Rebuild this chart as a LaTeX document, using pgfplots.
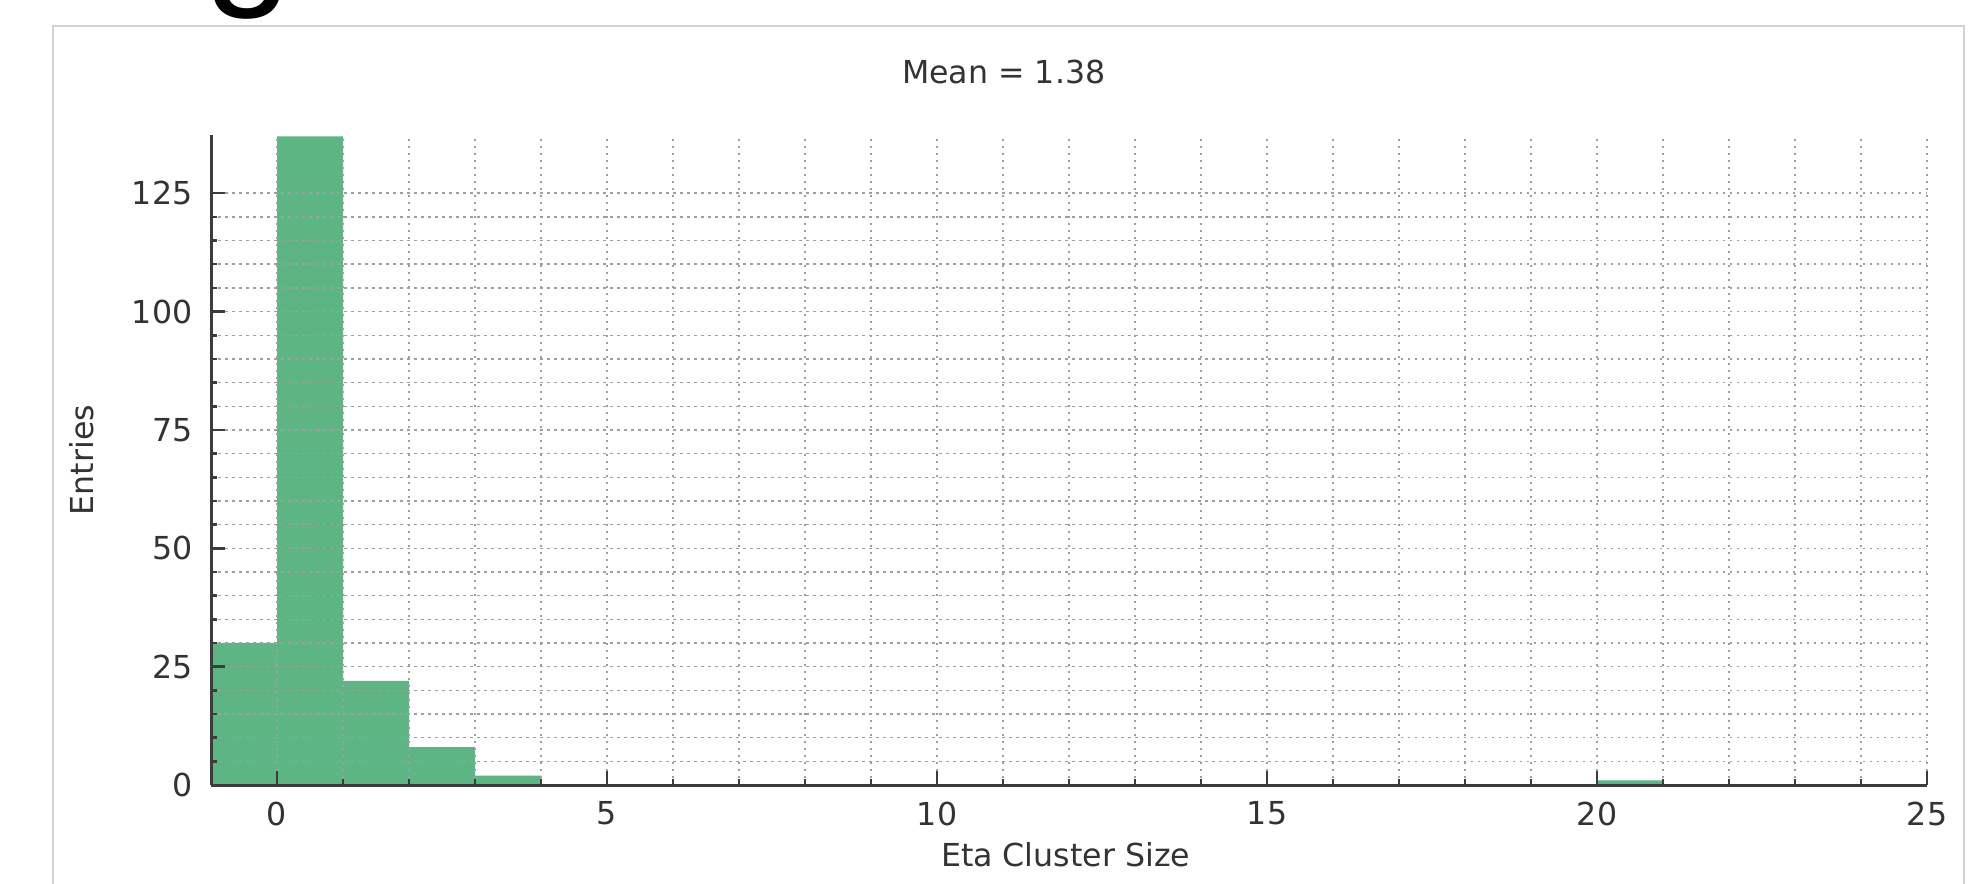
\documentclass[border=0pt]{standalone}
\usepackage{fontspec}
\setmainfont{DejaVu Sans}
\newfontfamily\headfont{Liberation Sans}
\usepackage{pgfplots}
\pgfplotsset{compat=1.18}
\definecolor{barfill}{HTML}{5DB583}
\definecolor{axisgray}{HTML}{3C3C3C}
\definecolor{txtgray}{HTML}{333333}

\begin{document}
\begin{tikzpicture}
\useasboundingbox (0,0) rectangle (197.8mm,88.3mm);
\fill[white] (0,0) rectangle (197.8mm,88.3mm);
% outer panel frame
\draw[gray!35, line width=0.25mm] (5.3mm,-2mm) -- (5.3mm,85.7mm) -- (196.4mm,85.7mm) -- (196.4mm,-2mm);
% cut-off heading letter at the top edge
\node[anchor=base, font=\headfont\fontsize{45}{45}\selectfont, inner sep=0pt] at (24.8mm,89.6mm) {g};
\begin{axis}[
    at={(21.1mm,9.8mm)}, anchor=south west,
    scale only axis,
    width=171.6mm, height=65mm,
    xmin=-1, xmax=25, ymin=0, ymax=137.3,
    axis x line*=bottom, axis y line*=left,
    xtick={0,5,...,25}, ytick={0,25,...,125},
    minor x tick num=4, minor y tick num=4,
    tick align=inside,
    major tick length=1.4mm, minor tick length=0.6mm,
    grid=both,
    major grid style={gray!75, line width=0.15mm, dash pattern=on 0.25mm off 0.45mm},
    minor grid style={gray!75, line width=0.15mm, dash pattern=on 0.25mm off 0.45mm},
    axis line style={axisgray, line width=0.3mm},
    every tick/.style={axisgray, line width=0.25mm},
    tick label style={font=\fontsize{9}{10}\selectfont, text=txtgray},
    /pgf/number format/assume math mode=true,
    yticklabel style={inner sep=0pt, xshift=-1.8mm},
    xticklabel style={inner sep=0pt, yshift=-1.6mm},
    label style={font=\fontsize{9}{10}\selectfont, text=txtgray},
    every axis title shift=0pt,
    title style={font=\fontsize{9}{10}\selectfont, text=txtgray, at={(axis description cs:0.462,1.097)}, anchor=center},
    xlabel style={at={(axis description cs:0.498,-0.1077)}, anchor=center},
    ylabel style={at={(axis description cs:-0.0752,0.5)}, anchor=center},
    xlabel={Eta Cluster Size},
    ylabel={Entries},
    title={Mean = 1.38},
    axis on top,
]
\addplot[const plot, fill=barfill, draw=none] coordinates {
    (-1,30)(0,137)(1,22)(2,8)(3,2)(4,0)(20,1)(21,0)
} \closedcycle;
\end{axis}
\end{tikzpicture}
\end{document}
